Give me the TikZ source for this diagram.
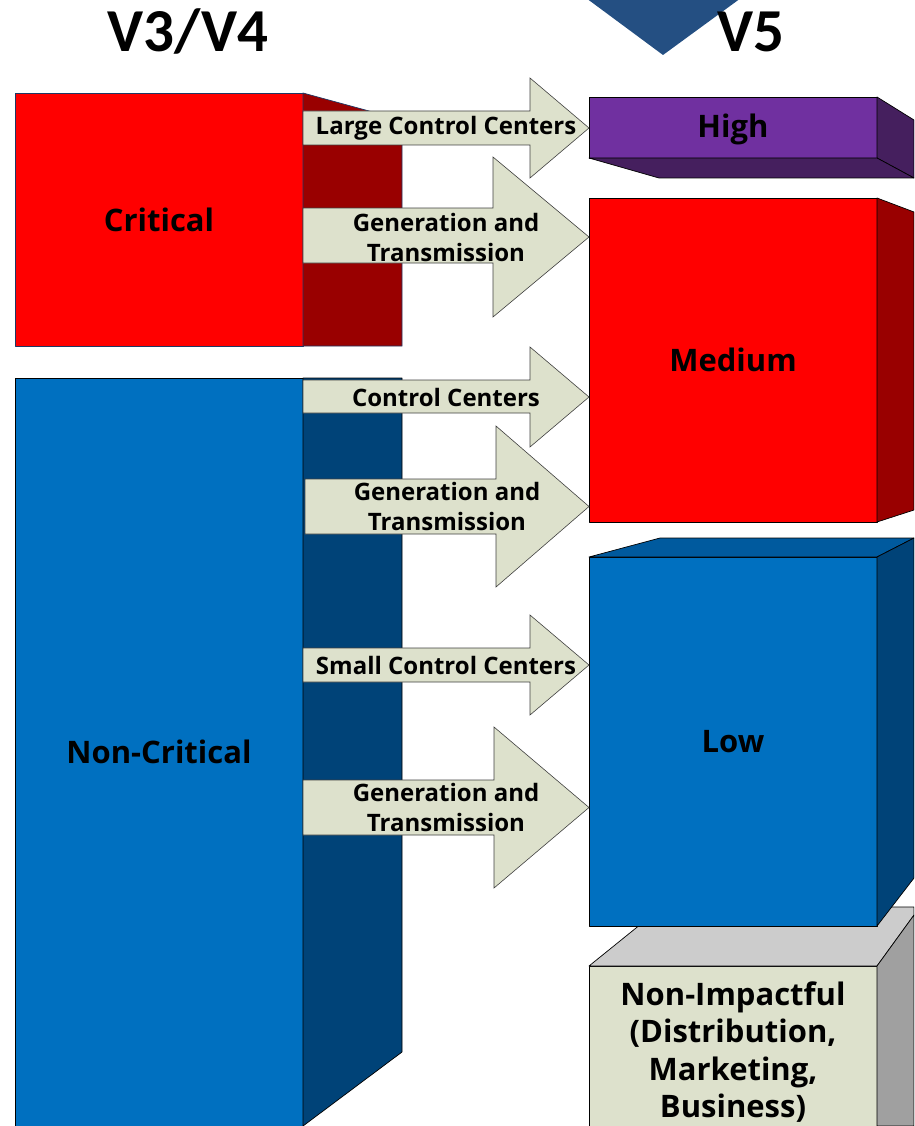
\documentclass[tikz,border=0pt]{standalone}
\usepackage{fontspec}
\setmainfont{Open Sans}
\newfontfamily\headfont{Carlito}
\usetikzlibrary{calc}

\definecolor{critred}{RGB}{255,0,0}
\definecolor{critdark}{RGB}{153,0,0}
\definecolor{critline}{RGB}{31,56,100}
\definecolor{ncblue}{RGB}{0,112,192}
\definecolor{ncdark}{RGB}{0,67,120}
\definecolor{lowtop}{RGB}{0,90,158}
\definecolor{hipurple}{RGB}{112,48,160}
\definecolor{hidark}{RGB}{69,31,94}
\definecolor{nitop}{RGB}{204,204,204}
\definecolor{niside}{RGB}{160,160,160}
\definecolor{paleface}{RGB}{221,225,204}
\definecolor{arrline}{RGB}{64,64,64}
\definecolor{marker}{RGB}{36,79,130}

% #1 name, #2 shaft start x, #3 shaft top, #4 shaft bottom,
% #5 head base x, #6 head top, #7 head bottom, #8 label, #9 target box
\newcommand\flowarrow[9]{%
  \coordinate (#1-tip) at (#9.west |- 0,{(#6+#7)/2});
  \draw[arr] (#2,#3) -- (#5,#3) -- (#5,#6) -- (#1-tip) -- (#5,#7)
    -- (#5,#4) -- (#2,#4) -- cycle;
  \node[arrlabel] (#1) at ($(#2,{(#6+#7)/2})!0.5!(#1-tip)$) {#8};
}

\begin{document}
\begin{tikzpicture}[x=1pt,y=-1pt,
  face/.style={draw=black, line width=0.7pt, line join=round},
  front/.style={face, anchor=north west, inner sep=0pt, outer sep=0pt,
    minimum width=288pt, align=center,
    font=\bfseries\fontsize{31}{37.5}\selectfont},
  arr/.style={fill=paleface, draw=arrline, line width=0.6pt, line join=miter},
  arrlabel/.style={align=center, font=\bfseries\fontsize{24}{30}\selectfont},
  heading/.style={anchor=base, font=\headfont\bfseries\fontsize{61}{62}\selectfont}]

\useasboundingbox (0,0) rectangle (914,1126);
\clip (0,0) rectangle (914,1126);

% version marker and headings
\fill[marker] (586,-2) -- (741,-2) -- (663,55) -- cycle;
\node[heading] (v34) at (188,52) {V3/V4};
\node[heading] (v5) at (751,52) {V5};

% left column: old categories
\node[front, fill=critred, draw=critline, minimum height=253pt] (crit) at (15,93) {Critical};
\draw[fill=critdark, draw=critline, line width=0.7pt]
  (crit.north east) -- ++(99,27) -- ++(0,226) -- (crit.south east) -- cycle;

\node[front, fill=ncblue, minimum height=748pt] (ncrit) at (15,378) {Non-Critical};
\draw[face, fill=ncdark]
  (ncrit.north east) -- ++(99,0) -- ++(0,674) -- (ncrit.south east) -- cycle;

% right column: new impact levels
\node[front, fill=hipurple, minimum height=61pt] (high) at (589,97)
  {\raisebox{-10.5pt}[0pt][0pt]{High}};
\draw[face, fill=hidark]
  (high.north east) -- (914,120) -- (914,178) -- (high.south east) -- cycle;
\draw[face, fill=hidark]
  (high.south west) -- (659,178) -- (914,178) -- (high.south east) -- cycle;

\node[front, fill=critred, minimum height=324pt] (med) at (589,198) {Medium};
\draw[face, fill=critdark]
  (med.north east) -- (914,212) -- (914,510) -- (med.south east) -- cycle;

\node[front, fill=paleface, minimum height=160pt] (nonimp) at (589,966)
  {\rule{0pt}{36pt}Non-Impactful\\(Distribution,\\Marketing,\\Business)};
\draw[face, fill=nitop]
  (nonimp.north west) -- (662,907) -- (914,907) -- (914,915) -- (nonimp.north east) -- cycle;
\draw[face, fill=niside]
  (nonimp.north east) -- (914,915) -- (914,1126) -- (nonimp.south east) -- cycle;

\node[front, fill=ncblue, minimum height=369pt] (low) at (589,557) {Low};
\draw[face, fill=lowtop]
  (low.north west) -- (660,538) -- (914,538) -- (low.north east) -- cycle;
\draw[face, fill=ncdark]
  (low.north east) -- (914,538) -- (914,878) -- (low.south east) -- cycle;

% mapping arrows
\flowarrow{lcc}{303}{111}{145}{530}{78}{178}{Large Control Centers}{high}
\flowarrow{gtc}{303}{208}{263}{493}{157}{317}{Generation and\\Transmission}{med}
\flowarrow{cc}{303}{380}{413}{530}{347}{447}{Control Centers}{med}
\flowarrow{gtm}{305}{479}{534}{496}{426}{587}{Generation and\\Transmission}{med}
\flowarrow{scc}{303}{648}{682}{530}{615}{715}{Small Control Centers}{low}
\flowarrow{gtl}{303}{780}{835}{494}{727}{888}{Generation and\\Transmission}{low}

\end{tikzpicture}
\end{document}
